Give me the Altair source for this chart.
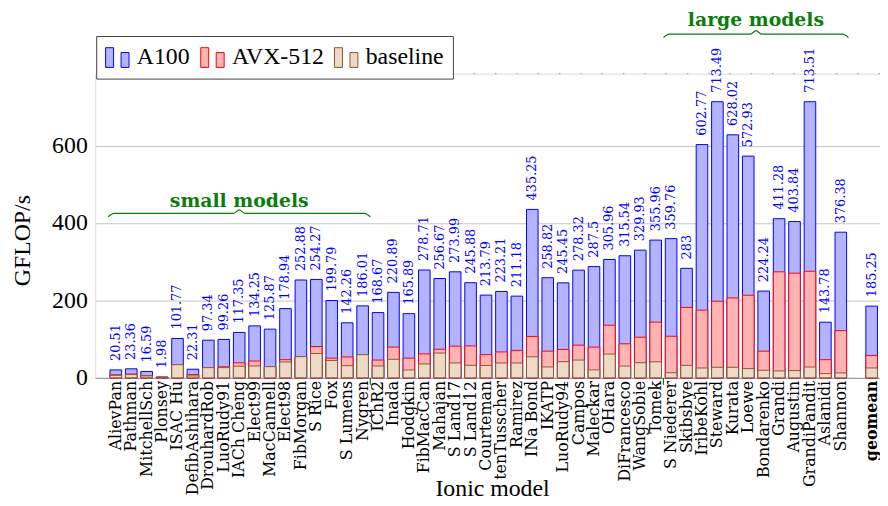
import altair as alt
import pandas as pd

# ---------------- data ----------------
MODELS = ["AlievPan", "Pathman", "MitchellSch", "Plonsey", "ISAC Hu", "DefibAshihara",
          "DrouhardRob", "LuoRudy91", "IACh Cheng", "Elect99", "MacCannell", "Elect98",
          "FibMorgan", "S Rice", "Fox", "S Lumens", "Nygren", "IChR2", "Inada", "Hodgkin",
          "FibMacCan", "Mahajan", "S Land17", "S Land12", "Courteman", "tenTusscher",
          "Ramirez", "INa Bond", "IKATP", "LuoRudy94", "Campos", "Maleckar", "OHara",
          "DiFrancesco", "WangSobie", "Tomek", "S Niederer", "Skibsbye", "IribeKohl",
          "Steward", "Kurata", "Loewe", "Bondarenko", "Grandi", "Augustin", "GrandiPandit",
          "Aslanidi", "Shannon"]

A100 = [20.51, 23.36, 16.59, 1.98, 101.77, 22.31, 97.34, 99.26, 117.35, 134.25, 125.87,
        178.94, 252.88, 254.27, 199.79, 142.26, 186.01, 168.67, 220.89, 165.89, 278.71,
        256.67, 273.99, 245.88, 213.79, 223.21, 211.18, 435.25, 258.82, 245.45, 278.32,
        287.5, 305.96, 315.54, 329.93, 355.96, 359.76, 283, 602.77, 713.49, 628.02, 572.93,
        224.24, 411.28, 403.84, 713.51, 143.78, 376.38]

AVX512 = [8, 10, 5.5, 1.8, 33, 8.5, 25.5, 28.5, 39, 43.5, 28, 47, 53, 81, 51, 54, 58, 46,
          79.5, 51, 62, 74, 82, 82.5, 60, 67, 71, 107, 69, 73.5, 84.5, 79.5, 136, 88, 105,
          144, 107.5, 182, 175, 198, 206.5, 213.5, 69, 274, 270.5, 275.5, 47, 122]

BASELINE = [6.5, 8.5, 5, 1.5, 34, 5, 26.5, 26.5, 30, 30.7, 29, 41, 55, 63, 45, 31.5, 60,
            30.7, 48, 20.5, 36, 64, 38.5, 32.5, 32, 38.5, 38.5, 54.6, 28.2, 41.8, 46, 20.7,
            61.5, 30.5, 39.2, 41.5, 13.2, 32.4, 25.6, 27.3, 27.3, 24, 19.6, 18, 18.8, 28,
            11, 12.8]

GEOMEAN_LABEL = "geomean"
GEOMEAN = {"A100": 185.25, "AVX-512": 58, "baseline": 25.6}

SERIES = ["A100", "AVX-512", "baseline"]
FILLS = ["#b3b3ff", "#ffb3b3", "#ecd9c6"]
STROKES = ["#0000ff", "#ff0000", "#8c5a2e"]

SMALL_GROUP = ("AlievPan", "Nygren")
LARGE_GROUP = ("S Niederer", "Shannon")
GROUP_TEXT = ["small models", "large models"]
GROUP_LEVEL = [425, 888]       # y level of the braces (GFLOP/s units)
GROUP_TEXT_LEVEL = [442, 908]  # baseline of the group titles

GREEN = "#0a7d0a"
YMAX = 786

# ---------------- build tables ----------------
pos = list(range(len(MODELS)))
geo_pos = len(MODELS) + 1          # one empty slot before geomean

rows = []
for s, vals in zip(SERIES, [A100, AVX512, BASELINE]):
    for i, v in zip(pos, vals):
        rows.append({"idx": i, "series": s, "value": v, "label": f"{v:g}"})
    rows.append({"idx": geo_pos, "series": s, "value": GEOMEAN[s], "label": f"{GEOMEAN[s]:g}"})
df = pd.DataFrame(rows)

cat_df = pd.DataFrame({"idx": pos, "name": MODELS, "zero": 0})
geo_df = pd.DataFrame({"idx": [geo_pos], "name": [GEOMEAN_LABEL], "zero": [0]})

# group geometry
groups = []
for (a, b) in [SMALL_GROUP, LARGE_GROUP]:
    groups.append((MODELS.index(a) - 0.5, MODELS.index(b) + 0.5))

brace_rows = []
amp = 9.0   # brace amplitude (value units)
curl = 0.38  # curl width (index units)
for gi, ((x0, x1), yb) in enumerate(zip(groups, GROUP_LEVEL)):
    xm = (x0 + x1) / 2
    pts = [(x0, yb - amp), (x0 + curl, yb), (xm - curl, yb), (xm, yb + amp),
           (xm + curl, yb), (x1 - curl, yb), (x1, yb - amp)]
    for k, (px, py) in enumerate(pts):
        brace_rows.append({"g": gi, "k": k, "x": px, "y": py})
brace_df = pd.DataFrame(brace_rows)

text_df = pd.DataFrame({"x": [(a + b) / 2 for a, b in groups],
                        "y": GROUP_TEXT_LEVEL, "t": GROUP_TEXT})
sep_df = pd.DataFrame({"x": [groups[0][1], groups[1][0]], "y": [0, 0], "y2": [-18, -18]})

# ---------------- scales / encodings ----------------
STEP = 15.766
XMIN = -16 / STEP
XMAX = XMIN + 792 / STEP

x_enc = alt.X("idx:Q",
              scale=alt.Scale(domain=[XMIN, XMAX], nice=False, zero=False),
              axis=alt.Axis(values=[0], labels=False, ticks=False, grid=False,
                            domain=True, domainColor="#999999",
                            title="Ionic model", titleFont="Liberation Serif",
                            titleFontSize=24, titleFontWeight="normal", titleColor="black",
                            titleX=400.5, titleY=119, titleBaseline="alphabetic",
                            titleAlign="center"))

y_enc = alt.Y("value:Q", stack=None,
              scale=alt.Scale(domain=[0, YMAX], nice=False, zero=True),
              axis=alt.Axis(values=[0, 200, 400, 600], ticks=False, domain=False,
                            labelFont="Liberation Serif", labelFontSize=24, labelPadding=8,
                            labelColor="black", grid=True, gridColor="#c4c4c4",
                            title="GFLOP/s", titleFont="Liberation Serif", titleFontSize=24,
                            titleFontWeight="normal", titleColor="black", titleAngle=270,
                            titleX=-73, titleY=168, titleBaseline="middle",
                            titleAlign="center"))

SYMBOL = "M-1,-0.83H-0.33V0.83H-1Z M0.3,-0.42H0.97V0.83H0.3Z"
legend = alt.Legend(title=None, orient="none", legendX=1, legendY=-38,
                    direction="horizontal", symbolType=SYMBOL, symbolSize=576,
                    symbolStrokeWidth=1, symbolOpacity=1, labelFont="Liberation Serif",
                    labelFontSize=24, labelColor="black", labelOffset=7, columnPadding=8,
                    padding=9, strokeColor="#444444", fillColor="white", cornerRadius=0)

fill_enc = alt.Fill("series:N", scale=alt.Scale(domain=SERIES, range=FILLS), legend=legend)
stroke_enc = alt.Stroke("series:N", scale=alt.Scale(domain=SERIES, range=STROKES), legend=legend)

base = alt.Chart(df)

layers = []

top_rule = alt.Chart(pd.DataFrame({"y": [YMAX]})).mark_rule(
    color="#9a9a9a", strokeDash=[1.5, 20], strokeWidth=1).encode(y=alt.Y("y:Q"))
layers.append(top_rule)

for s in SERIES:
    layers.append(
        base.transform_filter(alt.datum.series == s)
        .mark_bar(orient="vertical", size=11.7, strokeWidth=1, opacity=1)
        .encode(x=x_enc, y=y_enc, fill=fill_enc, stroke=stroke_enc)
    )

values_text = (base.transform_filter(alt.datum.series == "A100")
               .mark_text(angle=270, align="left", baseline="middle", dx=9,
                          font="DejaVu Serif", fontSize=13, color="#0000ff")
               .encode(x="idx:Q", y="value:Q", text="label:N"))
layers.append(values_text)

# category labels under the axis
cat_text = alt.Chart(cat_df).mark_text(
    angle=270, align="right", baseline="middle", dx=-3,
    font="DejaVu Serif", fontSize=16, color="black").encode(
    x="idx:Q", y="zero:Q", text="name:N")
layers.append(cat_text)
geo_text = alt.Chart(geo_df).mark_text(
    angle=270, align="right", baseline="middle", dx=-3,
    font="DejaVu Serif", fontSize=16, fontWeight="bold", color="black").encode(
    x="idx:Q", y="zero:Q", text="name:N")
layers.append(geo_text)

seps = alt.Chart(sep_df).mark_rule(color=GREEN, strokeWidth=1.2).encode(
    x="x:Q", y="y:Q", y2="y2:Q")
layers.append(seps)

braces = alt.Chart(brace_df).mark_line(color=GREEN, strokeWidth=1.2,
                                       interpolate="monotone").encode(
    x="x:Q", y="y:Q", detail="g:N", order="k:Q")
layers.append(braces)

gtext = alt.Chart(text_df).mark_text(font="DejaVu Serif", fontWeight="bold", fontSize=19,
                                     color=GREEN, align="center",
                                     baseline="alphabetic").encode(
    x="x:Q", y="y:Q", text="t:N")
layers.append(gtext)

chart = (alt.layer(*layers)
         .properties(width=792, height=307,
                     autosize=alt.AutoSizeParams(type="none"),
                     padding={"left": 88, "top": 64, "right": 0, "bottom": 121})
         .configure_view(stroke=None)
         .configure(background="white"))

chart.save("out.html", embed_options={"renderer": "svg", "actions": False})
